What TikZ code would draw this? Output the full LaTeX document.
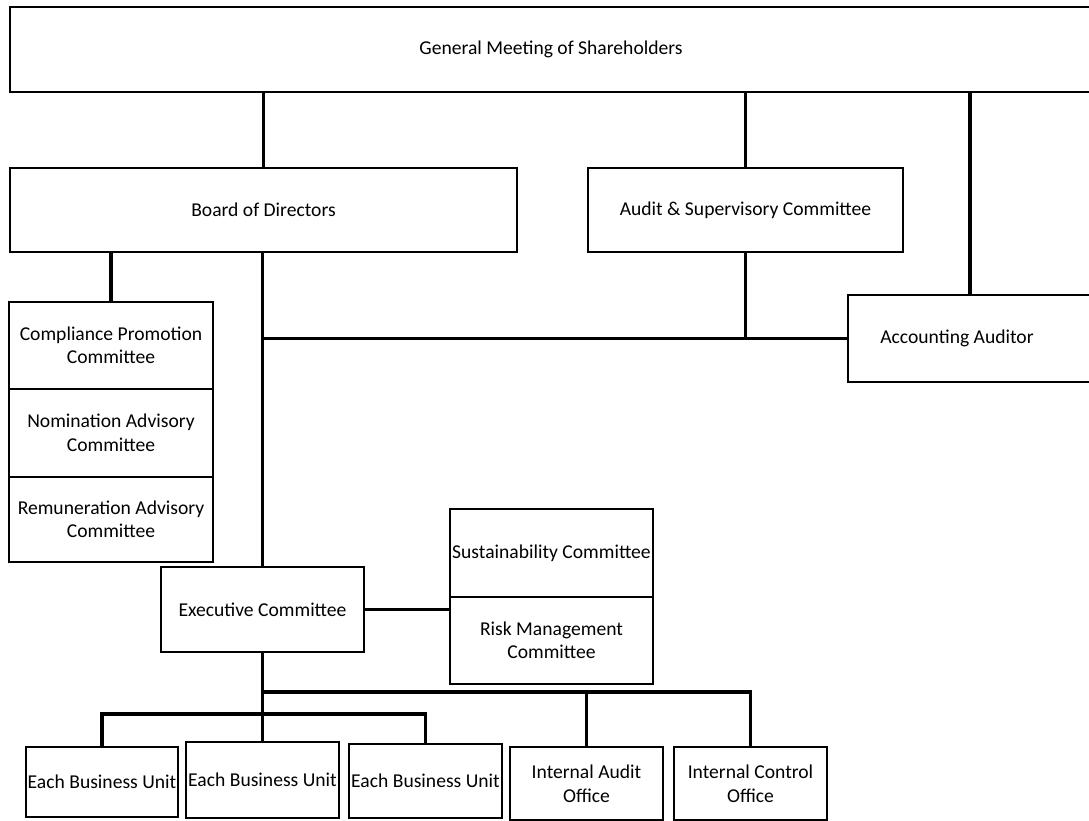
\documentclass[tikz,border=0pt]{standalone}
\usepackage{fontspec}
\setmainfont{Carlito}

\begin{document}
\begin{tikzpicture}[x=1pt, y=-1pt,
    unit/.style={draw=black, line width=1.2pt, fill=white, inner sep=0pt, align=center,
      font=\fontsize{19.6}{23.5}\selectfont},
    link/.style={line width=3.2pt}]
    \useasboundingbox (0,0) rectangle (1089,820);

    % top level
    \node[unit, minimum width=1082, minimum height=85] (gms) at (551, 49.5) {General Meeting of Shareholders};
    \node[unit, minimum width=507, minimum height=84] (board) at (263.5, 210) {Board of Directors};
    \node[unit, minimum width=315, minimum height=84] (audit) at (745.5, 210) {Audit \& Supervisory Committee};
    \node[unit, minimum width=244, minimum height=87] (acct) at (970, 338.5) {Accounting Auditor\hspace{26pt}};

    % committees under the board
    \node[unit, minimum width=204, minimum height=87] (comp) at (111, 345.5) {Compliance Promotion\\Committee};
    \node[unit, minimum width=204, minimum height=88] (nom) at (111, 433) {Nomination Advisory\\Committee};
    \node[unit, minimum width=204, minimum height=85] (rem) at (111, 519.5) {Remuneration Advisory\\Committee};

    % execution
    \node[unit, minimum width=203, minimum height=85] (exec) at (262.5, 609.5) {Executive Committee};
    \node[unit, minimum width=203, minimum height=88] (sust) at (551.5, 553) {Sustainability Committee};
    \node[unit, minimum width=203, minimum height=87] (risk) at (551.5, 640.5) {Risk Management\\Committee};

    % bottom row
    \node[unit, minimum width=152, minimum height=70] (bu1) at (102, 782) {Each Business Unit};
    \node[unit, minimum width=153, minimum height=76] (bu2) at (262.5, 780) {Each Business Unit};
    \node[unit, minimum width=153, minimum height=74] (bu3) at (425.5, 781) {Each Business Unit};
    \node[unit, minimum width=153, minimum height=73] (iao) at (586.5, 783.5) {Internal Audit\\Office};
    \node[unit, minimum width=153, minimum height=73] (ico) at (750.5, 783.5) {Internal Control\\Office};

    \coordinate (bus) at (262.5, 692);
    \coordinate (bubar) at (262.5, 714);

    \draw[link] (board.north) -- (board.north |- gms.south);
    \draw[link] (audit.north) -- (audit.north |- gms.south);
    \draw[link] (acct.north) -- (acct.north |- gms.south);
    \draw[link] (comp.north) -- (comp.north |- board.south);
    \draw[link] (board.south -| exec.north) -- (exec.north);
    \draw[link] (exec.north |- acct.west) -- (acct.west);
    \draw[link] (audit.south) -- (audit.south |- acct.west);
    \draw[link] (exec.east) -- (exec.east -| risk.west);
    \draw[link] (exec.south) -- (bu2.north);
    \draw[link] (bus) -| (iao.north);
    \draw[link] (bus) -| (ico.north);
    \draw[link] (bubar) -| (bu1.north);
    \draw[link] (bubar) -| (bu3.north);
  \end{tikzpicture}
\end{document}
